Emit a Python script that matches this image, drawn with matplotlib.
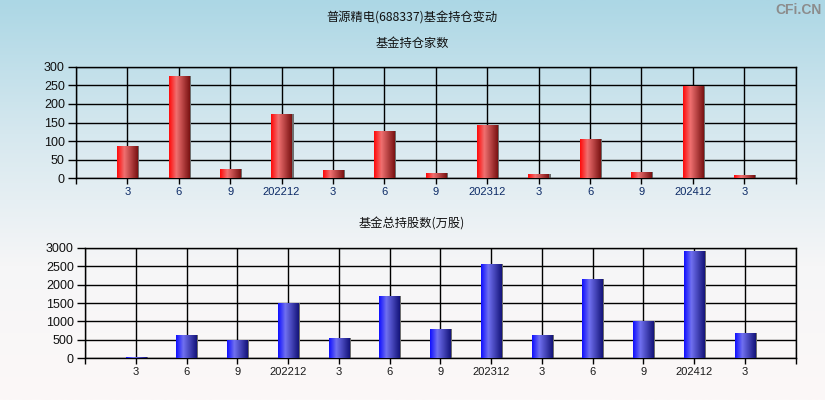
import numpy as np
import matplotlib
matplotlib.use("Agg")
import matplotlib.pyplot as plt
from matplotlib.colors import LinearSegmentedColormap

plt.rcParams['font.family'] = ['Noto Sans CJK SC', 'DejaVu Sans']

# ---- data ----
categories = ['3', '6', '9', '202212', '3', '6', '9', '202312', '3', '6', '9', '202412', '3']
fund_count = [86, 275, 25, 173, 22, 127, 15, 143, 12, 105, 17, 249, 9]
fund_shares = [30, 641, 488, 1500, 551, 1689, 795, 2556, 632, 2159, 1012, 2918, 696]
title = '普源精电(688337)基金持仓变动'
sub1 = '基金持仓家数'
sub2 = '基金总持股数(万股)'
yticks1 = [0, 50, 100, 150, 200, 250, 300]
yticks2 = [0, 500, 1000, 1500, 2000, 2500, 3000]

W, H = 825, 400
fig = plt.figure(figsize=(W / 100, H / 100), dpi=100)

# background gradient
bg = fig.add_axes([0, 0, 1, 1], zorder=-10)
bg_cmap = LinearSegmentedColormap.from_list('bg', ['#acd7e5', '#d6e8ef', '#f6f6f7', '#fcf8f8'])
bg.imshow(np.linspace(0, 1, 256).reshape(-1, 1), cmap=bg_cmap, aspect='auto', extent=(0, 1, 0, 1))
bg.set_axis_off()

red_cmap = LinearSegmentedColormap.from_list('r', [(0, '#ff0a0a'), (0.35, '#f07070'), (1, '#7a1212')])
blue_cmap = LinearSegmentedColormap.from_list('b', [(0, '#1010ff'), (0.35, '#7070f0'), (1, '#14147a')])
hgrad = np.linspace(0, 1, 64).reshape(1, -1)


def draw_panel(rect, values, yticks, cmap, label_color):
    ax = fig.add_axes(rect)
    ax.set_facecolor('none')
    x = np.arange(len(values))
    w = 0.4
    # shadow
    ax.bar(x + 0.035, values, w, color='#6e6e6e', zorder=2, linewidth=0)
    bars = ax.bar(x, values, w, color='none', zorder=3, linewidth=0)
    for b in bars:
        x0, y0 = b.get_x(), b.get_y()
        im = ax.imshow(hgrad, cmap=cmap, aspect='auto', zorder=3,
                       extent=(x0, x0 + b.get_width(), y0, y0 + b.get_height()))
        im.set_clip_path(b)
    ax.set_xlim(-1, len(values))
    ax.set_ylim(yticks[0], yticks[-1])
    ax.set_xticks(np.arange(-1, len(values) + 1))
    ax.set_xticklabels([''] + categories + [''], fontsize=8, color=label_color,
                       family=['Liberation Sans', 'DejaVu Sans'])
    ax.set_yticks(yticks)
    ax.set_yticklabels([str(t) for t in yticks], fontsize=9, color='#111111',
                       family=['Liberation Sans', 'DejaVu Sans'])
    ax.tick_params(axis='x', length=4, width=1, pad=2.5, color='black')
    ax.tick_params(axis='y', length=6, width=1, pad=2, color='black')
    ax.grid(True, color='black', linewidth=1, zorder=1)
    ax.set_axisbelow(True)
    for s in ax.spines.values():
        s.set_color('black')
        s.set_linewidth(1)
    return ax


draw_panel([76 / W, 1 - 178.3 / H, 719.6 / W, 111.6 / H], fund_count, yticks1, red_cmap, '#0c2a66')
draw_panel([85 / W, 1 - 358.3 / H, 710.6 / W, 110.6 / H], fund_shares, yticks2, blue_cmap, '#1a1a1a')

fig.text(412 / W, 1 - 18 / H, title, ha='center', va='center', fontsize=8.8, color='#111111')
fig.text(412 / W, 1 - 43 / H, sub1, ha='center', va='center', fontsize=8.8, color='#111111')
fig.text(412 / W, 1 - 224 / H, sub2, ha='center', va='center', fontsize=8.8, color='#111111')
fig.text(822 / W, 1 - 10 / H, 'CFi.CN', ha='right', va='center', fontsize=10, color='#8c8c8c',
         fontweight='bold', family=['Liberation Sans', 'DejaVu Sans'])

fig.savefig('out.png', dpi=100)
